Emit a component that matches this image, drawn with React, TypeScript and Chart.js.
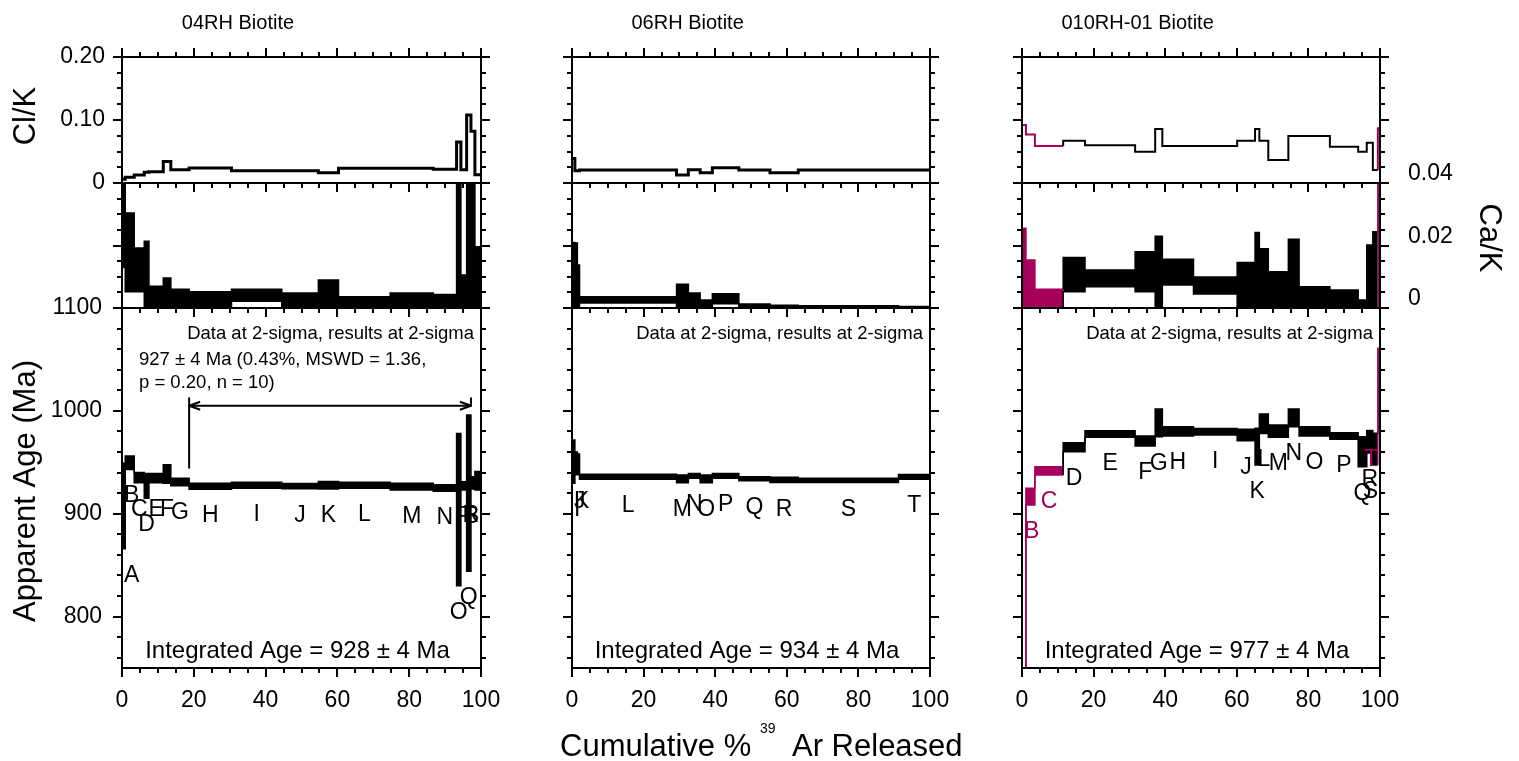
import { useEffect, useRef } from 'react';
import { Chart, registerables } from 'chart.js';

Chart.register(...registerables);

const W = 1519;
const H = 761;
const FONT = '"Liberation Sans", Arial, Helvetica, sans-serif';
const BLACK = '#000000';
const MAGENTA = '#a6005c';

// ---------- tick labels ----------
const xTickValues = [0, 20, 40, 60, 80, 100];
const clkTickValues = [0, 0.1, 0.2];
const clkTickLabels = ['0', '0.10', '0.20'];
const ageTickValues = [800, 900, 1000, 1100];
const ageTickLabels = ['800', '900', '1000', '1100'];
const cakTickValues = [0, 0.02, 0.04];
const cakTickLabels = ['0', '0.02', '0.04'];

// ---------- 04RH Biotite ----------
const steps04 = ['A', 'B', 'C', 'D', 'E', 'F', 'G', 'H', 'I', 'J', 'K', 'L', 'M', 'N', 'O', 'P', 'Q', 'R', 'S'];
const cum04 = [0, 0.9, 3.4, 6.2, 7.5, 11.5, 13.6, 18.7, 30.5, 44.5, 54.7, 60.3, 74.7, 86.7, 93.2, 94.4, 96.0, 97.2, 98.3, 100];
const age04 = [907.5, 949.6, 935.0, 927.0, 934.6, 938.5, 930.9, 926.6, 927.6, 926.8, 927.6, 927.6, 926.3, 925.0, 904.0, 927.0, 920.0, 930.0, 932.0];
const ageErr04 = [41.5, 6.5, 5.0, 12.0, 4.5, 9.0, 3.6, 2.9, 2.9, 2.6, 3.6, 2.9, 3.2, 3.2, 74.0, 4.0, 76.0, 6.0, 9.0];
const clk04 = [0.006, 0.009, 0.0127, 0.017, 0.018, 0.034, 0.021, 0.024, 0.0196, 0.0196, 0.0164, 0.0233, 0.0233, 0.022, 0.065, 0.021, 0.108, 0.082, 0.013];
const cak04 = [0.03, 0.0178, 0.0122, 0.0108, 0.0035, 0.0048, 0.003, 0.0026, 0.0041, 0.0024, 0.0045, 0.0018, 0.0024, 0.0023, 0.02, 0.0053, 0.02, 0.02, 0.0098];
const cakErr04 = [0.017, 0.0126, 0.007, 0.0106, 0.0035, 0.0048, 0.003, 0.0026, 0.0019, 0.0024, 0.0045, 0.0018, 0.0024, 0.002, 0.03, 0.0053, 0.03, 0.03, 0.0098];
const magenta04: string[] = [];

// plateau of 04RH
const plateauFrom04 = 18.7;
const plateauTo04 = 97.2;
const plateauArrowAge04 = 1005;
const plateauMarkTop04 = 1013;
const plateauMarkLeftBottom04 = 944;
const plateauMarkRightBottom04 = 1004;
const plateauText04 = ['927 ± 4 Ma (0.43%, MSWD = 1.36,', 'p = 0.20, n = 10)'];

// ---------- 06RH Biotite ----------
const steps06 = ['I', 'J', 'K', 'L', 'M', 'N', 'O', 'P', 'Q', 'R', 'S', 'T'];
const cum06 = [0, 0.8, 1.5, 2.1, 29.2, 32.5, 35.8, 39.2, 46.6, 55.3, 63.2, 91.2, 100];
const age06 = [950.7, 949.0, 948.0, 935.9, 933.9, 936.8, 933.9, 936.8, 934.0, 932.9, 932.4, 935.8];
const ageErr06 = [21.0, 11.0, 10.0, 2.5, 3.7, 2.4, 3.7, 2.4, 2.0, 2.6, 2.1, 2.3];
const clk06 = [0.039, 0.0196, 0.0196, 0.0206, 0.0127, 0.021, 0.0164, 0.0243, 0.0206, 0.0164, 0.0206, 0.0206];
const cak06 = [0.0105, 0.0104, 0.0069, 0.0026, 0.004, 0.0026, 0.0015, 0.003, 0.0008, 0.0006, 0.0005, 0.0003];
const cakErr06 = [0.0105, 0.0104, 0.0069, 0.001, 0.0036, 0.0022, 0.0011, 0.0016, 0.0005, 0.0003, 0.0002, 0.0002];
const magenta06: string[] = [];

// ---------- 010RH-01 Biotite ----------
const steps010 = ['A', 'B', 'C', 'D', 'E', 'F', 'G', 'H', 'I', 'J', 'K', 'L', 'M', 'N', 'O', 'P', 'Q', 'R', 'S', 'T'];
const cum010 = [0, 1.1, 3.6, 11.5, 17.6, 31.6, 37.2, 39.2, 47.9, 60.1, 65.1, 66.3, 68.8, 74.4, 77.4, 86.0, 93.9, 96.3, 98.0, 99.4, 100];
const age010 = [700, 916.6, 941.7, 964.7, 977.5, 970.7, 988.4, 980.1, 979.7, 976.5, 965.2, 987.5, 980.3, 993.2, 980.1, 975.5, 960.3, 970.0, 962.8, 1019.5];
const ageErr010 = [20, 8.1, 4.0, 4.4, 3.2, 4.9, 13.5, 4.5, 3.2, 5.5, 17.8, 9.4, 6.0, 8.6, 4.5, 3.2, 14.6, 11.0, 15.4, 41.3];
const clk010 = [0.092, 0.077, 0.0587, 0.067, 0.06, 0.0497, 0.0857, 0.0587, 0.0587, 0.067, 0.0857, 0.067, 0.0365, 0.0746, 0.0746, 0.0577, 0.0497, 0.064, 0.0206, 0.087];
const cak010 = [0.013, 0.0079, 0.003, 0.0107, 0.0095, 0.0116, 0.0115, 0.0115, 0.0072, 0.0073, 0.0121, 0.0095, 0.0058, 0.011, 0.0034, 0.0029, 0.0013, 0.0101, 0.0122, 0.03];
const cakErr010 = [0.0125, 0.0075, 0.003, 0.0055, 0.0027, 0.0064, 0.0115, 0.0041, 0.0027, 0.0073, 0.0121, 0.0095, 0.0058, 0.011, 0.0034, 0.0029, 0.0013, 0.0101, 0.0122, 0.03];
const magenta010 = ['A', 'B', 'C', 'T'];

const titles = ['04RH Biotite', '06RH Biotite', '010RH-01 Biotite'];
const integrated = ['Integrated Age = 928 ± 4 Ma', 'Integrated Age = 934 ± 4 Ma', 'Integrated Age = 977 ± 4 Ma'];
const sigmaNote = 'Data at 2-sigma, results at 2-sigma';

type Sample = {
  steps: string[]; cum: number[]; age: number[]; ageErr: number[];
  clk: number[]; cak: number[]; cakErr: number[]; magenta: string[]; clkWidth: number;
};

const SAMPLES: Sample[] = [
  { steps: steps04, cum: cum04, age: age04, ageErr: ageErr04, clk: clk04, cak: cak04, cakErr: cakErr04, magenta: magenta04, clkWidth: 3 },
  { steps: steps06, cum: cum06, age: age06, ageErr: ageErr06, clk: clk06, cak: cak06, cakErr: cakErr06, magenta: magenta06, clkWidth: 3 },
  { steps: steps010, cum: cum010, age: age010, ageErr: ageErr010, clk: clk010, cak: cak010, cakErr: cakErr010, magenta: magenta010, clkWidth: 2 },
];

// ---------- layout ----------
const COLS = [
  { left: 122, right: 481 },
  { left: 572, right: 930 },
  { left: 1022, right: 1380 },
];
type RowKey = 'clk' | 'cak' | 'age';
const ROWS: Record<RowKey, { top: number; bottom: number; min: number; max: number }> = {
  clk: { top: 57, bottom: 183, min: 0, max: 0.2 },
  cak: { top: 183, bottom: 308, min: 0, max: 0.04 },
  age: { top: 308, bottom: 668, min: 750, max: 1100 },
};

function yTickList(row: RowKey): [number, boolean][] {
  const out: [number, boolean][] = [];
  if (row === 'clk') for (let k = 0; k <= 8; k++) out.push([k * 0.025, k % 4 === 0]);
  if (row === 'cak') for (let k = 0; k <= 8; k++) out.push([k * 0.005, k % 4 === 0]);
  if (row === 'age') for (let k = 0; k <= 17; k++) { const v = 760 + 20 * k; out.push([v, v % 100 === 0]); }
  return out;
}

function stepPts(cum: number[], vals: number[]) {
  const pts = [{ x: cum[0], y: vals[0] }];
  vals.forEach((v, i) => pts.push({ x: cum[i + 1], y: v }));
  return pts;
}

function colorFor(s: Sample, i: number) {
  const idx = Math.max(0, Math.min(i, s.steps.length - 1));
  return s.magenta.includes(s.steps[idx]) ? MAGENTA : BLACK;
}

function boxDatasets(s: Sample, vals: number[], errs: number[]) {
  const seg = {
    borderColor: (c: any) => colorFor(s, c.p0DataIndex),
    backgroundColor: (c: any) => colorFor(s, c.p0DataIndex),
  };
  const upper = stepPts(s.cum, vals.map((v, i) => v + errs[i]));
  const lower = stepPts(s.cum, vals.map((v, i) => v - errs[i]));
  return [
    { data: upper, stepped: 'after', borderColor: BLACK, backgroundColor: BLACK, borderWidth: 1.5, pointRadius: 0, fill: false, segment: seg, clip: 0 },
    { data: lower, stepped: 'after', borderColor: BLACK, backgroundColor: BLACK, borderWidth: 1.5, pointRadius: 0, fill: '-1', segment: seg, clip: 0 },
  ];
}

function lineDataset(s: Sample, vals: number[]) {
  return [{
    data: stepPts(s.cum, vals), stepped: 'after', borderColor: BLACK, borderWidth: s.clkWidth, pointRadius: 0, fill: false,
    segment: { borderColor: (c: any) => colorFor(s, c.p0DataIndex) },
  }];
}

function seg(ctx: CanvasRenderingContext2D, x1: number, y1: number, x2: number, y2: number) {
  ctx.beginPath();
  ctx.moveTo(x1, y1);
  ctx.lineTo(x2, y2);
  ctx.stroke();
}

function txt(ctx: CanvasRenderingContext2D, s: string, x: number, y: number, size: number,
  align: CanvasTextAlign = 'left', baseline: CanvasTextBaseline = 'alphabetic', color = BLACK, rot = 0) {
  ctx.save();
  ctx.font = `${size}px ${FONT}`;
  ctx.fillStyle = color;
  ctx.textAlign = align;
  ctx.textBaseline = baseline;
  ctx.translate(x, y);
  if (rot) ctx.rotate(rot);
  ctx.fillText(s, 0, 0);
  ctx.restore();
}

function makePlugin(col: number, row: RowKey, s: Sample) {
  return {
    id: 'panelDecor',
    afterDatasetsDraw(chart: any) {
      const ctx: CanvasRenderingContext2D = chart.ctx;
      const { left, right, top, bottom } = chart.chartArea;
      const xs = chart.scales.x;
      const ys = chart.scales.y;
      ctx.save();
      ctx.strokeStyle = BLACK;
      ctx.lineWidth = 2;
      ctx.lineCap = 'butt';
      // frame
      ctx.strokeRect(left, top, right - left, bottom - top);
      // x ticks
      for (let k = 0; k <= 20; k++) {
        const px = Math.round(xs.getPixelForValue(k * 5));
        const len = k % 4 === 0 ? 9 : 5;
        seg(ctx, px, bottom, px, bottom + len);
        if (row === 'clk') seg(ctx, px, top, px, top - len);
      }
      // y ticks
      for (const [v, major] of yTickList(row)) {
        const py = Math.round(ys.getPixelForValue(v));
        const len = major ? 9 : 5;
        seg(ctx, left, py, left - len, py);
        seg(ctx, right, py, right + len, py);
      }
      ctx.restore();

      if (row === 'clk') {
        txt(ctx, titles[col], left + 0.323 * (right - left), 29, 20, 'center');
        if (col === 0) {
          clkTickValues.forEach((v, i) => txt(ctx, clkTickLabels[i], 105, ys.getPixelForValue(v), 23, 'right', 'middle'));
          txt(ctx, 'Cl/K', 35, 116, 31, 'center', 'alphabetic', BLACK, -Math.PI / 2);
        }
      }

      if (row === 'cak' && col === 2) {
        cakTickValues.forEach((v, i) => txt(ctx, cakTickLabels[i], 1408, ys.getPixelForValue(v) - 9, 23, 'left', 'middle'));
        txt(ctx, 'Ca/K', 1480, 238, 31, 'center', 'alphabetic', BLACK, Math.PI / 2);
      }

      if (row === 'age') {
        xTickValues.forEach((v) => txt(ctx, String(v), xs.getPixelForValue(v), 707, 23, 'center'));
        txt(ctx, sigmaNote, right - 7, 339, 18.5, 'right');
        txt(ctx, integrated[col], (left + right) / 2 - 4, 658, 24, 'center');
        // step labels
        ctx.save();
        ctx.font = `23px ${FONT}`;
        s.steps.forEach((lab, i) => {
          const lowPx = ys.getPixelForValue(s.age[i] - s.ageErr[i]);
          const yb = lowPx + 33;
          if (lowPx > bottom || yb > bottom - 2) return;
          const w = ctx.measureText(lab).width;
          let xc = xs.getPixelForValue((s.cum[i] + s.cum[i + 1]) / 2);
          xc = Math.min(Math.max(xc, left + w / 2 + 2), right - w / 2 - 2);
          txt(ctx, lab, xc, yb, 23, 'center', 'alphabetic', colorFor(s, i));
        });
        ctx.restore();
        if (col === 0) {
          ageTickValues.forEach((v, i) => txt(ctx, ageTickLabels[i], 102, ys.getPixelForValue(v), 23, 'right', 'middle'));
          txt(ctx, 'Apparent Age (Ma)', 35, 491, 31, 'center', 'alphabetic', BLACK, -Math.PI / 2);
          txt(ctx, plateauText04[0], left + 17, 365, 18.5, 'left');
          txt(ctx, plateauText04[1], left + 17, 388, 18.5, 'left');
          // plateau arrow
          ctx.save();
          ctx.strokeStyle = BLACK;
          ctx.lineWidth = 2;
          const xa = xs.getPixelForValue(plateauFrom04);
          const xb = xs.getPixelForValue(plateauTo04);
          const ya = ys.getPixelForValue(plateauArrowAge04);
          seg(ctx, xa, ya, xb, ya);
          seg(ctx, xa, ya, xa + 11, ya - 4);
          seg(ctx, xa, ya, xa + 11, ya + 4);
          seg(ctx, xb, ya, xb - 11, ya - 4);
          seg(ctx, xb, ya, xb - 11, ya + 4);
          seg(ctx, xa, ys.getPixelForValue(plateauMarkTop04), xa, ys.getPixelForValue(plateauMarkLeftBottom04));
          seg(ctx, xb, ys.getPixelForValue(plateauMarkTop04), xb, ys.getPixelForValue(plateauMarkRightBottom04));
          ctx.restore();
        }
        if (col === 1) {
          txt(ctx, 'Cumulative %', 560, 756, 31, 'left');
          txt(ctx, '39', 760, 733, 14, 'left');
          txt(ctx, 'Ar Released', 792, 756, 31, 'left');
        }
      }
    },
  };
}

type Panel = { col: number; row: RowKey };
const PANELS: Panel[] = [];
[0, 1, 2].forEach((col) => (['clk', 'cak', 'age'] as RowKey[]).forEach((row) => PANELS.push({ col, row })));

function makeConfig(p: Panel): any {
  const s = SAMPLES[p.col];
  const c = COLS[p.col];
  const r = ROWS[p.row];
  let datasets: any[] = [];
  if (p.row === 'clk') datasets = lineDataset(s, s.clk);
  if (p.row === 'cak') datasets = boxDatasets(s, s.cak, s.cakErr);
  if (p.row === 'age') datasets = boxDatasets(s, s.age, s.ageErr);
  return {
    type: 'line',
    data: { datasets },
    options: {
      responsive: false,
      maintainAspectRatio: false,
      animation: false,
      devicePixelRatio: 1,
      events: [],
      layout: { padding: { left: c.left, right: W - c.right, top: r.top, bottom: H - r.bottom }, autoPadding: false },
      scales: {
        x: { type: 'linear', min: 0, max: 100, display: false },
        y: { type: 'linear', min: r.min, max: r.max, display: false },
      },
      plugins: { legend: { display: false }, tooltip: { enabled: false } },
      elements: { point: { radius: 0 }, line: { tension: 0 } },
    },
    plugins: [makePlugin(p.col, p.row, s)],
  };
}

export default function App() {
  const refs = useRef<(HTMLCanvasElement | null)[]>([]);
  useEffect(() => {
    const charts: Chart[] = [];
    PANELS.forEach((p, k) => {
      const cv = refs.current[k];
      if (cv) charts.push(new Chart(cv, makeConfig(p)));
    });
    return () => charts.forEach((ch) => ch.destroy());
  }, []);
  return (
    <div style={{ position: 'fixed', left: 0, top: 0, width: W, height: H, background: '#ffffff', overflow: 'hidden' }}>
      {PANELS.map((p, k) => (
        <canvas
          key={k}
          ref={(el) => { refs.current[k] = el; }}
          width={W}
          height={H}
          style={{ position: 'absolute', left: 0, top: 0, width: W, height: H }}
        />
      ))}
    </div>
  );
}
